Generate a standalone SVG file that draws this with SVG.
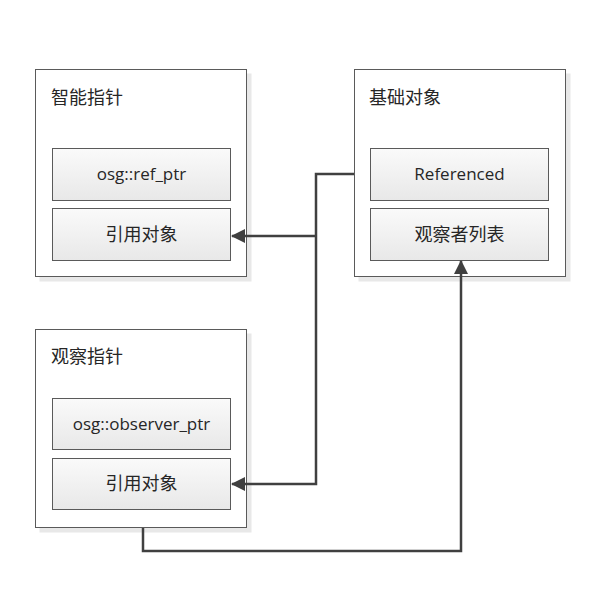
<svg xmlns="http://www.w3.org/2000/svg" width="593" height="594" viewBox="0 0 593 594">
<style>
.outer{fill:#ffffff;stroke:#5a5a5a;stroke-width:1}
.shadow{fill:#e8e8e8}
.inner{fill:url(#g);stroke:#5a5a5a;stroke-width:1}
.t{font-family:"Noto Sans CJK SC","Liberation Sans",sans-serif;font-size:18px;fill:#262626}
.c{font-family:"Noto Sans CJK SC","Liberation Sans",sans-serif;font-size:18px;fill:#262626;text-anchor:middle}
.e{font-family:"Open Sans","Liberation Sans",sans-serif;font-size:17px;fill:#262626;text-anchor:middle}
.ln{fill:none;stroke:#404040;stroke-width:2.5}
</style>
<defs>
<linearGradient id="g" x1="0" y1="0" x2="0" y2="1">
<stop offset="0" stop-color="#fafafa"/>
<stop offset="1" stop-color="#e8e8e8"/>
</linearGradient>
<marker id="ah" markerWidth="14" markerHeight="14" refX="13" refY="7" orient="auto" markerUnits="userSpaceOnUse">
<path d="M0,0 L14,7 L0,14 Z" fill="#404040"/>
</marker>
</defs>
<rect width="593" height="594" fill="#ffffff"/>
<g id="node-smart">
<rect class="shadow" x="39.5" y="73.5" width="212" height="208"/>
<rect class="outer" x="35.5" y="69.5" width="211" height="207"/>
<text class="t" x="51" y="104">智能指针</text>
</g>
<g id="node-refptr">
<rect class="inner" x="52.5" y="148.5" width="178" height="52"/>
<text class="e" x="141.5" y="180">osg::ref_ptr</text>
</g>
<g id="node-ref1">
<rect class="inner" x="52.5" y="208.5" width="178" height="52"/>
<text class="c" x="141.5" y="241">引用对象</text>
</g>
<g id="node-base">
<rect class="shadow" x="358.5" y="73.5" width="212" height="208"/>
<rect class="outer" x="354.5" y="69.5" width="211" height="207"/>
<text class="t" x="369" y="104">基础对象</text>
</g>
<g id="node-referenced">
<rect class="inner" x="370.5" y="148.5" width="178" height="52"/>
<text class="e" x="459.5" y="180">Referenced</text>
</g>
<g id="node-observers">
<rect class="inner" x="370.5" y="208.5" width="178" height="52"/>
<text class="c" x="459.5" y="241">观察者列表</text>
</g>
<g id="node-observer">
<rect class="shadow" x="39.5" y="333.5" width="212" height="199"/>
<rect class="outer" x="35.5" y="329.5" width="211" height="198"/>
<text class="t" x="51" y="363">观察指针</text>
</g>
<g id="node-obsptr">
<rect class="inner" x="52.5" y="398.5" width="178" height="51"/>
<text class="e" x="141.5" y="430">osg::observer_ptr</text>
</g>
<g id="node-ref2">
<rect class="inner" x="52.5" y="458.5" width="178" height="51"/>
<text class="c" x="141.5" y="490">引用对象</text>
</g>
<g id="connectors">
<polyline class="ln" points="354,174 316,174 316,484 232,484" marker-end="url(#ah)"/>
<polyline class="ln" points="316,236 232,236" marker-end="url(#ah)"/>
<polyline class="ln" points="143,528 143,551 461,551 461,261" marker-end="url(#ah)"/>
</g>
</svg>
